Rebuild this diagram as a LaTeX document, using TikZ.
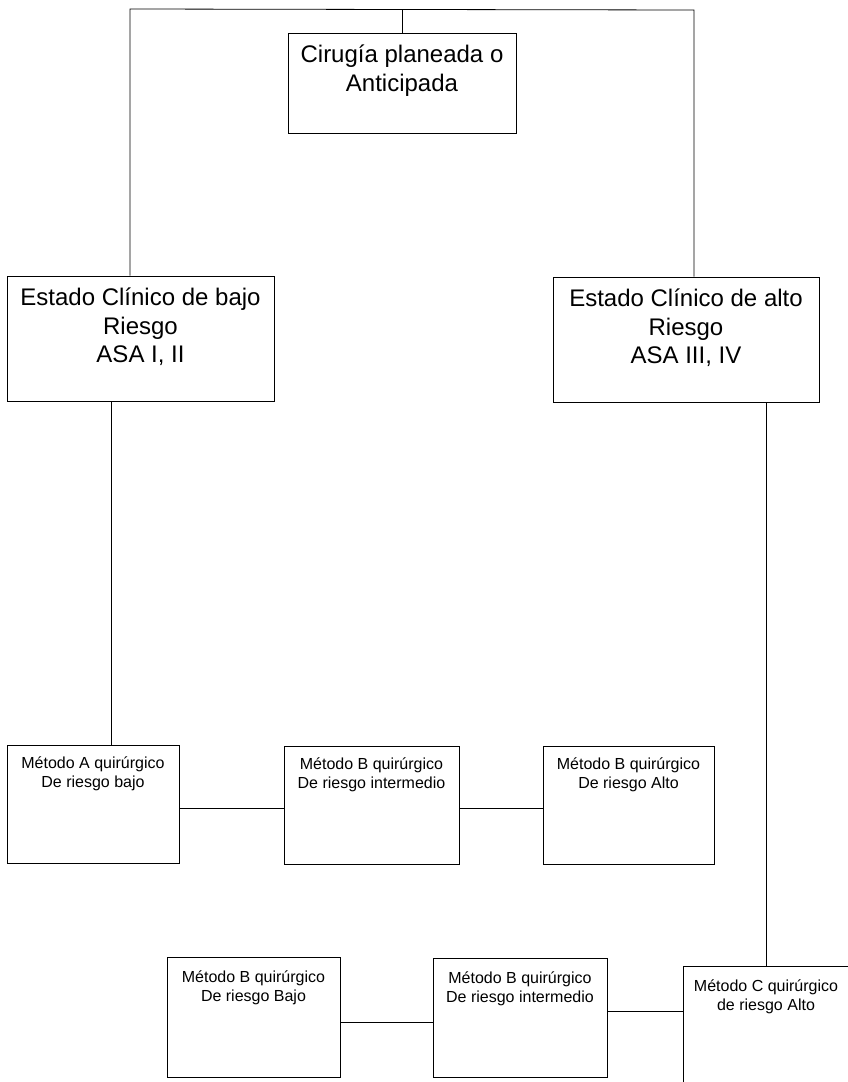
\documentclass[tikz,border=0pt]{standalone}
\usepackage{fontspec}
\setmainfont{Liberation Sans}
\newcommand{\boxtxt}[4]{\parbox[c][#2][t]{#1}{\centering\vspace*{#3}\strut #4}}

\begin{document}
\begin{tikzpicture}[x=1pt,y=-1pt,
  caja/.style={draw,line width=0.8pt,inner sep=0pt,font=\fontsize{24}{28.5}\selectfont},
  cajita/.style={draw,line width=0.8pt,inner sep=0pt,font=\fontsize{16}{19}\selectfont},
  linea/.style={line width=0.8pt}]
\useasboundingbox (0,0) rectangle (848,1082);
\clip (0,0) rectangle (848,1082);
\node[caja] (cir) at (402,83) {\boxtxt{228pt}{100pt}{10pt}{Cirugía planeada o\\Anticipada}};
\node[caja] (bajo) at (140.5,338.5) {\boxtxt{267pt}{125pt}{10pt}{Estado Clínico de bajo\\Riesgo\\ASA I, II}};
\node[caja] (alto) at (686,339.5) {\boxtxt{266pt}{125pt}{10pt}{Estado Clínico de alto\\Riesgo\\ASA III, IV}};
\node[cajita] (mA) at (93,804) {\boxtxt{172pt}{118pt}{10pt}{Método A quirúrgico\\De riesgo bajo}};
\node[cajita] (mBi) at (371.5,805) {\boxtxt{175pt}{118pt}{10pt}{Método B quirúrgico\\De riesgo intermedio}};
\node[cajita] (mBa) at (628.5,805) {\boxtxt{171pt}{118pt}{10pt}{Método B quirúrgico\\De riesgo Alto}};
\node[cajita] (mBb) at (253.5,1017) {\boxtxt{173pt}{120pt}{12pt}{Método B quirúrgico\\De riesgo Bajo}};
\node[cajita] (mBi2) at (520,1017.5) {\boxtxt{174pt}{119pt}{12pt}{Método B quirúrgico\\De riesgo intermedio}};
\node[cajita] (mC) at (766,1033) {\boxtxt{166pt}{134pt}{12pt}{Método C quirúrgico\\de riesgo Alto}};
\coordinate (esqI) at (130,9);
\coordinate (esqD) at (694,10);
\coordinate (izq) at (111,0);
\draw[linea] (esqI |- bajo.north) -- (esqI) -- (esqD) -- (esqD |- alto.north);
\draw[linea] (cir.north) -- (cir.north |- esqD);
\draw[linea] (izq |- bajo.south) -- (izq |- mA.north);
\draw[linea] (mC.north) -- (mC.north |- alto.south);
\draw[linea] ([yshift=-4pt]mA.east) -- ([yshift=-4pt]mA.east -| mBi.west);
\draw[linea] ([yshift=-3pt]mBi.east) -- ([yshift=-3pt]mBi.east -| mBa.west);
\draw[linea] ([yshift=-5pt]mBb.east) -- ([yshift=-5pt]mBb.east -| mBi2.west);
\draw[linea] ([yshift=6.5pt]mBi2.east) -- ([yshift=6.5pt]mBi2.east -| mC.west);
\end{tikzpicture}
\end{document}
